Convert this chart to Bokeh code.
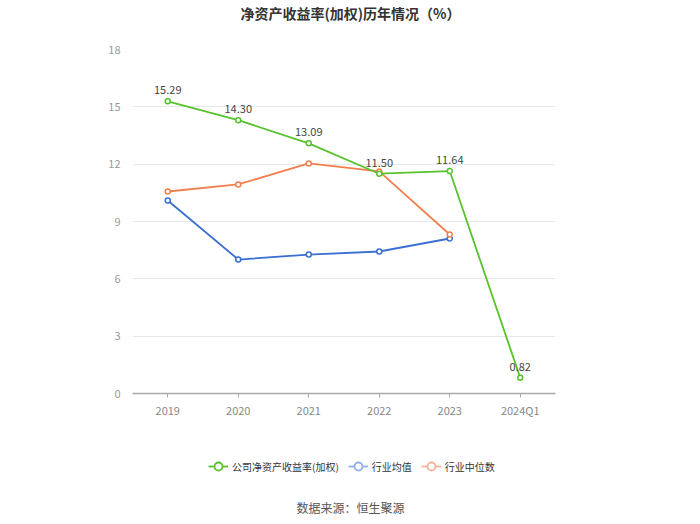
from bokeh.plotting import figure
from bokeh.models import FactorRange, Legend, LegendItem, Label, FixedTicker, ColumnDataSource
from bokeh.layouts import column
from bokeh.embed import file_html
from bokeh.resources import INLINE
from bokeh.core.properties import value

categories = ["2019", "2020", "2021", "2022", "2023", "2024Q1"]
company = [15.29, 14.30, 13.09, 11.50, 11.64, 0.82]
ind_cats = ["2019", "2020", "2021", "2022", "2023"]
ind_avg = [10.10, 7.01, 7.27, 7.43, 8.11]
ind_med = [10.57, 10.94, 12.04, 11.62, 8.32]
y_ticks = [0, 3, 6, 9, 12, 15, 18]

FONT = "Noto Sans CJK SC"
GREEN = "#58c22c"
BLUE = "#3a6fd3"
ORANGE = "#f2804e"


def strip(h):
    f = figure(width=684, height=h, x_range=(0, 1), y_range=(0, 1), output_backend="svg",
               toolbar_location=None, min_border=0, x_axis_location=None, y_axis_location=None)
    f.outline_line_color = None
    f.grid.grid_line_color = None
    return f


# title strip
t = strip(41)
t.add_layout(Label(x=218, y=29, x_units="screen", y_units="screen",
                   text="净资产收益率(加权)历年情况（%）", text_align="center", text_baseline="middle",
                   text_font=FONT, text_font_size="14px", text_font_style="bold", text_color="#333333"))

p = figure(width=684, height=389, x_range=FactorRange(*categories, range_padding=0),
           y_range=(0, 18), output_backend="svg", toolbar_location=None,
           min_border_left=132, min_border_right=129, min_border_top=8, min_border_bottom=37)
p.outline_line_color = None

p.xgrid.grid_line_color = None
p.ygrid.grid_line_color = "#e8e8e8"
p.yaxis.ticker = FixedTicker(ticks=y_ticks)
p.yaxis.axis_line_color = None
p.yaxis.major_tick_line_color = None
p.yaxis.minor_tick_line_color = None
p.yaxis.major_label_text_color = "#999999"
p.yaxis.major_label_text_font = FONT
p.yaxis.major_label_text_font_size = "11px"
p.yaxis.major_label_standoff = 6

p.xaxis.axis_line_color = "#aaaaaa"
p.xaxis.axis_line_width = 1.5
p.xaxis.major_tick_line_color = "#aaaaaa"
p.xaxis.major_tick_out = 4
p.xaxis.major_tick_in = 0
p.xaxis.major_label_text_color = "#888888"
p.xaxis.major_label_text_font = FONT
p.xaxis.major_label_text_font_size = "11px"
p.xaxis.major_label_standoff = 4

src_c = ColumnDataSource(dict(x=categories, y=company, t=["%.2f" % v for v in company]))
src_a = ColumnDataSource(dict(x=ind_cats, y=ind_avg))
src_m = ColumnDataSource(dict(x=ind_cats, y=ind_med))

p.line("x", "y", source=src_a, color=BLUE, line_width=1.8)
p.scatter("x", "y", source=src_a, size=5, line_color=BLUE, fill_color="white", line_width=1.5)
p.line("x", "y", source=src_m, color=ORANGE, line_width=1.8)
p.scatter("x", "y", source=src_m, size=5, line_color=ORANGE, fill_color="white", line_width=1.5)
p.line("x", "y", source=src_c, color=GREEN, line_width=1.8)
p.scatter("x", "y", source=src_c, size=5, line_color=GREEN, fill_color="white", line_width=1.5)
p.text("x", "y", text="t", source=src_c, text_align="center", text_baseline="bottom",
       y_offset=-7, text_font=value(FONT), text_font_size="11px", text_color="#444444")

# legend / source strip
q = strip(86)
off = dict(x=[-10], y=[-10])
gl = q.line("x", "y", source=ColumnDataSource(off), color=GREEN, line_width=1.8)
gs = q.scatter("x", "y", source=ColumnDataSource(off), size=9, line_color=GREEN, fill_color="white", line_width=1.8)
bl = q.line("x", "y", source=ColumnDataSource(off), color="#8fb0ea", line_width=1.8)
bs = q.scatter("x", "y", source=ColumnDataSource(off), size=9, line_color="#8fb0ea", fill_color="white", line_width=1.8)
ol = q.line("x", "y", source=ColumnDataSource(off), color="#f6b39a", line_width=1.8)
osc = q.scatter("x", "y", source=ColumnDataSource(off), size=9, line_color="#f6b39a", fill_color="white", line_width=1.8)

legend = Legend(items=[
    LegendItem(label="公司净资产收益率(加权)", renderers=[gl, gs]),
    LegendItem(label="行业均值", renderers=[bl, bs]),
    LegendItem(label="行业中位数", renderers=[ol, osc]),
], orientation="horizontal", location=(76, 40), margin=0, padding=0,
    label_text_font=FONT, label_text_font_size="10px", label_text_color="#333333",
    border_line_color=None, background_fill_alpha=0, glyph_width=20, glyph_height=20,
    label_height=20, spacing=9, label_standoff=4)
q.add_layout(legend)

q.add_layout(Label(x=218, y=9, x_units="screen", y_units="screen", text="数据来源：恒生聚源",
                   text_align="center", text_baseline="middle", text_font=FONT,
                   text_font_size="12px", text_color="#555555"))

open("out.html", "w").write(file_html(column(t, p, q, spacing=0), INLINE))
